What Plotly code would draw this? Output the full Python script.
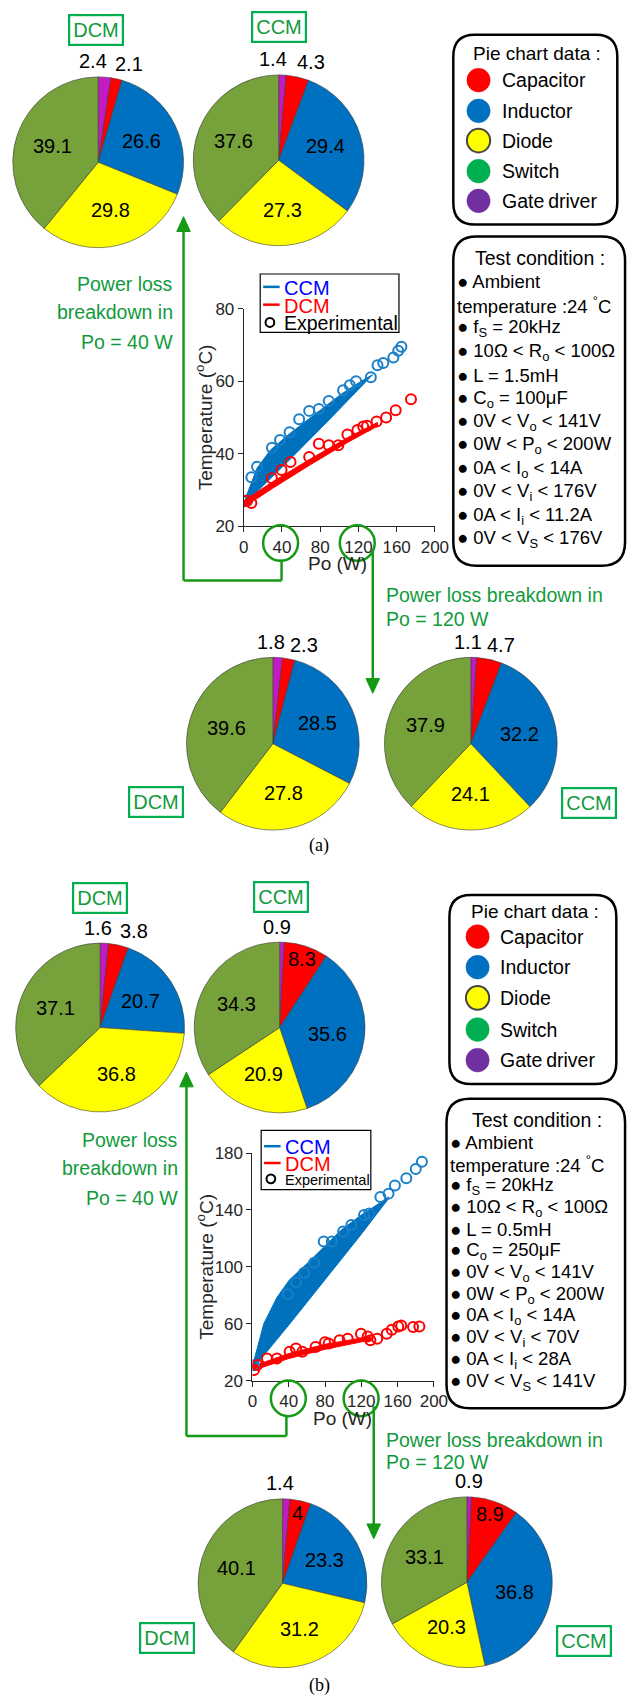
import math
import plotly.graph_objects as go

W, H = 641, 1707
FONT = "Liberation Sans, Arial, sans-serif"
SERIF = "Liberation Serif, Times New Roman, serif"

# ---------------- data ----------------
pie_parts = ["Gate driver", "Capacitor", "Inductor", "Diode", "Switch"]
pie_colors = ["#c41ac4", "#ff0000", "#0070c0", "#ffff00", "#76a13b"]

# panel (a): power loss breakdown (%)
a_dcm_40 = [2.4, 2.1, 26.6, 29.8, 39.1]
a_ccm_40 = [1.4, 4.3, 29.4, 27.3, 37.6]
a_dcm_120 = [1.8, 2.3, 28.5, 27.8, 39.6]
a_ccm_120 = [1.1, 4.7, 32.2, 24.1, 37.9]
# panel (b)
b_dcm_40 = [1.6, 3.8, 20.7, 36.8, 37.1]
b_ccm_40 = [0.9, 8.3, 35.6, 20.9, 34.3]
b_dcm_120 = [1.4, 4, 23.3, 31.2, 40.1]
b_ccm_120 = [0.9, 8.9, 36.8, 20.3, 33.1]

legend_names = ["Capacitor", "Inductor", "Diode", "Switch", "Gate\u2009driver"]
legend_colors = ["#ff0000", "#0070c0", "#ffff00", "#00b050", "#7030a0"]

cond_a = ["\u25cf Ambient", "temperature :24 <sup>\u00b0</sup>C", "\u25cf f<sub>S</sub> = 20kHz",
          "\u25cf 10\u03a9 < R<sub>o</sub> < 100\u03a9", "\u25cf L = 1.5mH", "\u25cf C<sub>o</sub> = 100\u03bcF",
          "\u25cf 0V < V<sub>o</sub> < 141V", "\u25cf 0W < P<sub>o</sub> < 200W", "\u25cf 0A < I<sub>o</sub> < 14A",
          "\u25cf 0V < V<sub>i</sub> < 176V", "\u25cf 0A < I<sub>i</sub> < 11.2A", "\u25cf 0V < V<sub>S</sub> < 176V"]
cond_b = ["\u25cf Ambient", "temperature :24 <sup>\u00b0</sup>C", "\u25cf f<sub>S</sub> = 20kHz",
          "\u25cf 10\u03a9 < R<sub>o</sub> < 100\u03a9", "\u25cf L = 0.5mH", "\u25cf C<sub>o</sub> = 250\u03bcF",
          "\u25cf 0V < V<sub>o</sub> < 141V", "\u25cf 0W < P<sub>o</sub> < 200W", "\u25cf 0A < I<sub>o</sub> < 14A",
          "\u25cf 0V < V<sub>i</sub> < 70V", "\u25cf 0A < I<sub>i</sub> < 28A", "\u25cf 0V < V<sub>S</sub> < 141V"]

x_ticks = [0, 40, 80, 120, 160, 200]
a_y_ticks = [20, 40, 60, 80]
b_y_ticks = [20, 60, 100, 140, 180]

# panel (a) temperature vs Po
a_ccm_up_x = [0, 3, 14, 28, 48, 65, 82, 102, 123, 135]
a_ccm_up_y = [26.0, 28.5, 36.0, 41.0, 45.5, 49.0, 52.3, 56.4, 60.0, 61.8]
a_ccm_lo_x = [0, 45, 90, 135]
a_ccm_lo_y = [26.0, 37.5, 49.5, 61.8]
a_dcm_up_x = [0, 30, 70, 110, 140]
a_dcm_up_y = [27.0, 32.2, 38.6, 44.6, 48.6]
a_dcm_lo_x = [0, 30, 70, 110, 140]
a_dcm_lo_y = [25.2, 30.4, 37.0, 43.3, 47.6]
a_ccm_exp_x = [3.4, 8, 14, 29.5, 38, 48, 58, 68.5, 78.6, 89, 104, 111, 117.6, 133, 140, 146, 156.6, 161.7, 165]
a_ccm_exp_y = [27.0, 33.5, 36.4, 41.6, 43.8, 45.9, 49.5, 51.8, 52.3, 54.5, 57.5, 58.9, 60.0, 61.1, 64.4, 65.0, 66.5, 68.4, 69.5]
a_dcm_exp_x = [3.4, 8, 29.5, 39.6, 49, 68.5, 78.6, 89, 99, 108.5, 119, 125, 129, 139, 149, 159, 175]
a_dcm_exp_y = [27.0, 26.4, 33.2, 35.5, 37.7, 39.1, 42.7, 42.3, 42.3, 45.3, 46.5, 47.5, 47.7, 48.9, 50.0, 52.0, 55.0]

# panel (b)
b_ccm_up_x = [0, 3.6, 12.5, 27, 41, 59, 77, 98, 120, 150]
b_ccm_up_y = [30, 39, 60, 78.5, 91, 101.6, 113, 126, 136.4, 149]
b_ccm_lo_x = [0, 40, 80, 120, 150]
b_ccm_lo_y = [28, 59, 91, 123, 148]
b_dcm_up_x = [0, 40, 80, 130]
b_dcm_up_y = [30, 39, 45.5, 51]
b_dcm_lo_x = [0, 40, 80, 130]
b_dcm_lo_y = [27, 35.5, 42, 48.5]
b_ccm_exp_x = [1.8, 39, 48, 57, 68, 78.6, 87.5, 100, 109, 123, 128.6, 141, 150, 157, 169.6, 180, 186.8]
b_ccm_exp_y = [30.9, 80.8, 88.9, 95.8, 102.8, 117.9, 117.9, 124.8, 129.4, 136.4, 137.6, 149.2, 151.5, 157.3, 162.4, 168.9, 174.0]
b_dcm_exp_x = [1.8, 5.4, 16, 27, 41, 48, 55, 69.6, 80, 84, 96, 105, 119.6, 127, 130, 137.5, 148, 153.6, 160.7, 164, 177, 184]
b_dcm_exp_y = [27.4, 30.9, 35.5, 35.5, 40.2, 42.5, 40.2, 43.6, 47.0, 46.0, 48.3, 49.4, 53.0, 51.0, 48.3, 49.4, 53.0, 55.7, 58.0, 58.7, 57.6, 58.0]

# ---------------- helpers ----------------
def px(x):
    return x / W


def py(y):
    return 1 - y / H


GREEN_ARROW = "#169a16"
GREEN_TEXT = "#119a3c"
GREEN_BOX = "#00b050"
BLUE = "#0072bd"
RED = "#ff0000"
AXC = "#262626"

shapes = []
annotations = []


def text(x, y, s, size=19, color="black", xanchor="center", yanchor="middle", family=FONT, **kw):
    d = dict(x=px(x), y=py(y), xref="paper", yref="paper", text=s, showarrow=False,
             font=dict(size=size, color=color, family=family), xanchor=xanchor, yanchor=yanchor)
    d.update(kw)
    annotations.append(d)


def line(x0, y0, x1, y1, color=GREEN_ARROW, width=2.5):
    shapes.append(dict(type="line", xref="paper", yref="paper", x0=px(x0), y0=py(y0), x1=px(x1), y1=py(y1),
                       line=dict(color=color, width=width), layer="above"))


def circle(cx, cy, rx, ry, color=GREEN_ARROW, width=2.5, fill="rgba(0,0,0,0)"):
    shapes.append(dict(type="circle", xref="paper", yref="paper", x0=px(cx - rx), x1=px(cx + rx),
                       y0=py(cy + ry), y1=py(cy - ry), line=dict(color=color, width=width),
                       fillcolor=fill, layer="above"))


def tri(tx, ty, direction, half=7, length=15, color=GREEN_ARROW):
    by = ty + length if direction == "up" else ty - length
    p = f"M {px(tx)},{py(ty)} L {px(tx - half)},{py(by)} L {px(tx + half)},{py(by)} Z"
    shapes.append(dict(type="path", xref="paper", yref="paper", path=p, fillcolor=color,
                       line=dict(color=color, width=1), layer="above"))


def rrect(x0, y0, x1, y1, r, width=2.5):
    pts = [("M", (x0 + r, y0)), ("L", (x1 - r, y0)), ("Q", (x1, y0), (x1, y0 + r)),
           ("L", (x1, y1 - r)), ("Q", (x1, y1), (x1 - r, y1)), ("L", (x0 + r, y1)),
           ("Q", (x0, y1), (x0, y1 - r)), ("L", (x0, y0 + r)), ("Q", (x0, y0), (x0 + r, y0))]
    s = ""
    for item in pts:
        s += item[0] + " " + " ".join(f"{px(a)},{py(b)}" for a, b in item[1:]) + " "
    s += "Z"
    shapes.append(dict(type="path", xref="paper", yref="paper", path=s, fillcolor="white",
                       line=dict(color="black", width=width), layer="below"))


def mode_box(cx, cy, label):
    text(cx, cy, label, size=20, color=GREEN_TEXT, bordercolor=GREEN_BOX, borderwidth=2.2, borderpad=3)


traces = []


def add_pie(vals, cx, cy, r, modes, dx1=-4, dx2=33):
    traces.append(go.Pie(values=vals, labels=pie_parts, sort=False, direction="clockwise", rotation=0,
                         marker=dict(colors=pie_colors, line=dict(color="rgba(60,60,60,0.75)", width=0.8)),
                         textinfo="none", hoverinfo="label+value", showlegend=False,
                         domain=dict(x=[px(cx - r), px(cx + r)], y=[py(cy + r), py(cy - r)])))
    tot = sum(vals)
    cum = 0.0
    top = cy - r
    for v, m in zip(vals, modes):
        mid = math.radians((cum + v / 2) / tot * 360)
        cum += v
        lab = f"{v:g}"
        if m == "top1":
            text(cx + dx1, top - 14, lab, size=20)
        elif m == "top2":
            text(cx + dx2, top - 11, lab, size=20)
        else:
            f = 0.83 if m == "in2" else 0.57
            text(cx + f * r * math.sin(mid), cy - f * r * math.cos(mid), lab, size=20)


TOPS = ["top1", "top2", "in", "in", "in"]
IN2 = ["top1", "in2", "in", "in", "in"]

# ---------------- panel (a) ----------------
add_pie(a_dcm_40, 96, 155, 88, TOPS, dx1=-5, dx2=32)
add_pie(a_ccm_40, 282, 153, 88, TOPS, dx1=-6, dx2=33)
add_pie(a_dcm_120, 276, 743, 89, TOPS, dx1=-2, dx2=32)
add_pie(a_ccm_120, 480, 743, 89, TOPS, dx1=-3, dx2=31)
mode_box(94, 21.5, "DCM")
mode_box(282, 18.5, "CCM")
mode_box(155.5, 802, "DCM")
mode_box(602, 803, "CCM")

# ---------------- panel (b) ----------------
add_pie(b_dcm_40, 98, 1030, 87, TOPS, dx1=-2, dx2=35)
add_pie(b_ccm_40, 283, 1030, 88, IN2, dx1=-3)
add_pie(b_dcm_120, 286, 1592, 87, IN2, dx1=-3)
add_pie(b_ccm_120, 476, 1591, 88, IN2, dx1=2)
mode_box(98, 899.5, "DCM")
mode_box(284.5, 898, "CCM")
mode_box(166.5, 1647.5, "DCM")
mode_box(596.5, 1650, "CCM")


# ---------------- scatter plots ----------------
def band(ux, uy, lx, ly, color, xa, ya, name):
    traces.append(go.Scatter(x=ux + lx[::-1], y=uy + ly[::-1], fill="toself", fillcolor=color,
                             mode="lines", line=dict(color=color, width=1), name=name,
                             showlegend=False, xaxis=xa, yaxis=ya, hoverinfo="skip"))


def exp(x, y, color, xa, ya, name):
    traces.append(go.Scatter(x=x, y=y, mode="markers", name=name, showlegend=False,
                             marker=dict(symbol="circle-open", size=10, color=color, line=dict(width=2)),
                             xaxis=xa, yaxis=ya))


band(a_ccm_up_x, a_ccm_up_y, a_ccm_lo_x, a_ccm_lo_y, BLUE, "x", "y", "CCM")
band(a_dcm_up_x, a_dcm_up_y, a_dcm_lo_x, a_dcm_lo_y, RED, "x", "y", "DCM")
exp(a_ccm_exp_x, a_ccm_exp_y, "#1a7fc9", "x", "y", "CCM experimental")
exp(a_dcm_exp_x, a_dcm_exp_y, RED, "x", "y", "DCM experimental")

band(b_ccm_up_x, b_ccm_up_y, b_ccm_lo_x, b_ccm_lo_y, BLUE, "x2", "y2", "CCM")
band(b_dcm_up_x, b_dcm_up_y, b_dcm_lo_x, b_dcm_lo_y, RED, "x2", "y2", "DCM")
exp(b_ccm_exp_x, b_ccm_exp_y, "#1a7fc9", "x2", "y2", "CCM experimental")
exp(b_dcm_exp_x, b_dcm_exp_y, RED, "x2", "y2", "DCM experimental")


def plot_legend(x0, y0, x1, y1, rows, exp_size):
    shapes.append(dict(type="rect", xref="paper", yref="paper", x0=px(x0), x1=px(x1), y0=py(y1), y1=py(y0),
                       line=dict(color="black", width=1.2), fillcolor="white", layer="above"))
    (yc, yd, ye) = rows
    line(x0 + 3, yc, x0 + 20, yc, color=BLUE, width=2.5)
    line(x0 + 3, yd, x0 + 20, yd, color=RED, width=2.5)
    circle(x0 + 10, ye, 4.5, 4.5, color="black", width=2)
    text(x0 + 22, yc + 1, "CCM", size=20, color="#0000ff", xanchor="left")
    text(x0 + 22, yd + 1, "DCM", size=20, color="#ff0000", xanchor="left")
    text(x0 + 22, ye + 1, "Experimental", size=exp_size, color="black", xanchor="left")


plot_legend(263, 268, 406, 327, (281, 299, 317), 19.5)
plot_legend(264, 1134, 377, 1194, (1150, 1167, 1183), 14.5)


def axis_titles(xc, yb, xt, yc):
    text(xc, yb, "Po (W)", size=19, color=AXC)
    text(xt, yc, "Temperature (<sup>o</sup>C)", size=19, color=AXC, textangle=-90)


axis_titles(343, 561, 206, 413)
axis_titles(348, 1425, 206, 1272)


def pie_legend(x0, y0, x1, y1, rows, mx, tx):
    rrect(x0, y0, x1, y1, 22)
    text((x0 + x1) / 2 + 2, rows[0], "Pie chart data :", size=19)
    for (nm, col, yy) in zip(legend_names, legend_colors, rows[1:]):
        lc = "#444444" if col == "#ffff00" else col
        shapes.append(dict(type="circle", xref="paper", yref="paper", x0=px(mx - 12), x1=px(mx + 12),
                           y0=py(yy + 12), y1=py(yy - 12), fillcolor=col,
                           line=dict(color=lc, width=2 if col == "#ffff00" else 0.5), layer="above"))
        text(tx, yy, nm, size=19.5, xanchor="left")


pie_legend(462, 26, 631, 218, [45, 72, 103, 133, 164, 194], 488, 510)
pie_legend(458, 896, 630, 1087, [913, 938, 969, 1000, 1032, 1063], 487, 508)


def cond_box(x0, y0, x1, y1, lines_):
    rrect(x0, y0, x1, y1, 24)
    t = y0 + 22
    step = (y1 - 27 - t) / len(lines_)
    text((x0 + x1) / 2 + 1, t, "Test condition :", size=19.5)
    for i, s in enumerate(lines_):
        text(x0 + 2, t + (i + 1) * step, s, size=18.5, xanchor="left")


cond_box(462, 230, 639, 563, cond_a)
cond_box(455, 1102, 639, 1415, cond_b)

# ---------------- arrows / brackets ----------------
# (a)
line(184, 222, 184, 578)
tri(184, 210, "up")
line(184, 578, 285, 578)
line(285, 578, 285, 557)
circle(284, 540, 18, 18)
circle(363, 540, 18, 18)
line(379, 548, 379, 680)
tri(379, 692, "down")
text(175, 278, "Power loss", size=19.5, color=GREEN_TEXT, xanchor="right")
text(175, 306, "breakdown in", size=19.5, color=GREEN_TEXT, xanchor="right")
text(175, 337, "Po = 40 W", size=19.5, color=GREEN_TEXT, xanchor="right")
text(391, 593, "Power loss breakdown in", size=19.5, color=GREEN_TEXT, xanchor="left")
text(391, 617, "Po = 120 W", size=19.5, color=GREEN_TEXT, xanchor="left")
text(324, 846, "(a)", size=18, family=SERIF)

# (b)
line(187, 1087, 187, 1443)
tri(187, 1075, "up")
line(187, 1443, 290, 1443)
line(290, 1443, 290, 1422)
circle(292, 1405, 18, 18)
circle(367, 1405, 18, 18)
line(380, 1413, 380, 1535)
tri(380, 1547, "down")
text(180, 1144, "Power loss", size=19.5, color=GREEN_TEXT, xanchor="right")
text(180, 1172, "breakdown in", size=19.5, color=GREEN_TEXT, xanchor="right")
text(180, 1202, "Po = 40 W", size=19.5, color=GREEN_TEXT, xanchor="right")
text(391, 1447, "Power loss breakdown in", size=19.5, color=GREEN_TEXT, xanchor="left")
text(391, 1469, "Po = 120 W", size=19.5, color=GREEN_TEXT, xanchor="left")
text(324, 1695, "(b)", size=18, family=SERIF)

fig = go.Figure(traces)

AX = dict(showline=True, linecolor=AXC, linewidth=1, ticks="outside", ticklen=5, tickcolor=AXC,
          tickfont=dict(size=17, color=AXC, family=FONT), showgrid=False, zeroline=False, mirror=False)

fig.update_layout(
    width=W, height=H, autosize=False, margin=dict(l=0, r=0, t=0, b=0, pad=0),
    paper_bgcolor="white", plot_bgcolor="rgba(0,0,0,0)", showlegend=False,
    font=dict(family=FONT),
    xaxis=dict(AX, domain=[px(246), px(443)], range=[0, 200], tickvals=x_ticks, anchor="y"),
    yaxis=dict(AX, domain=[py(523), py(303)], range=[20, 80], tickvals=a_y_ticks, anchor="x"),
    xaxis2=dict(AX, domain=[px(255), px(442)], range=[0, 200], tickvals=x_ticks, anchor="y2"),
    yaxis2=dict(AX, domain=[py(1387), py(1157)], range=[20, 180], tickvals=b_y_ticks, anchor="x2"),
    shapes=shapes, annotations=annotations,
)

fig.write_html("out.html", config={"displayModeBar": False},
               post_script="document.body.style.margin='0';document.body.style.overflow='hidden';")
